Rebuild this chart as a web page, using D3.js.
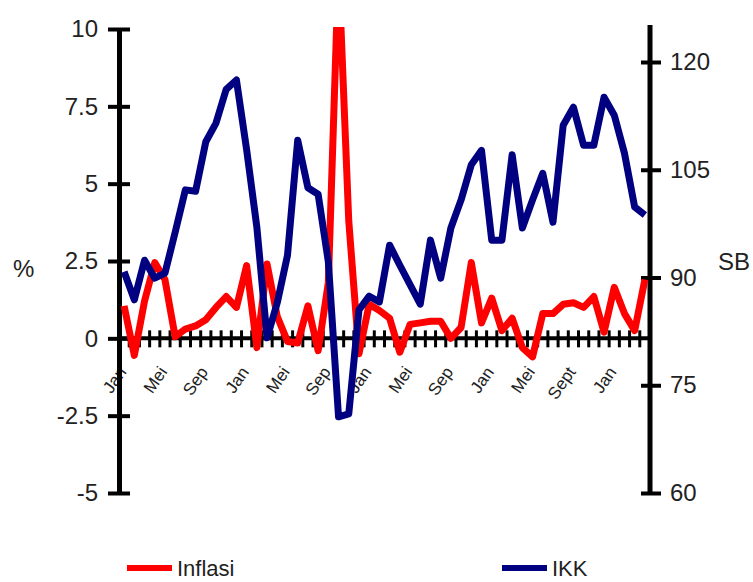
<!DOCTYPE html>
<html>
<head>
<meta charset="utf-8" />
<style>
  body { margin: 0; background: #fff; }
  svg { display: block; font-family: "Liberation Sans", Arial, sans-serif; }
</style>
</head>
<body>
<script src="https://cdn.jsdelivr.net/npm/d3@7/dist/d3.min.js"></script>
<script>
// bulan: Jan 2004 - Apr 2008
var bulan = [
  "Jan", "Feb", "Mar", "Apr", "Mei", "Jun", "Jul", "Agu", "Sep", "Okt", "Nov", "Des",
  "Jan", "Feb", "Mar", "Apr", "Mei", "Jun", "Jul", "Agu", "Sep", "Okt", "Nov", "Des",
  "Jan", "Feb", "Mar", "Apr", "Mei", "Jun", "Jul", "Agu", "Sep", "Okt", "Nov", "Des",
  "Jan", "Feb", "Mar", "Apr", "Mei", "Jun", "Jul", "Agu", "Sept", "Okt", "Nov", "Des",
  "Jan", "Feb", "Mar", "Apr"
];

// inflasi bulanan (%), sumbu kiri
var inflasi = [
  1.05, -0.55, 1.2, 2.45, 1.9, 0.05, 0.3, 0.4, 0.6, 1.0, 1.35, 1.0,
  2.35, -0.3, 2.4, 0.7, -0.1, -0.15, 1.05, -0.4, 1.8, 12, 3.8, -0.5,
  1.1, 0.9, 0.65, -0.45, 0.45, 0.5, 0.55, 0.55, 0.0, 0.35, 2.45, 0.5,
  1.3, 0.25, 0.65, -0.3, -0.6, 0.8, 0.8, 1.1, 1.15, 1.0, 1.35, 0.2,
  1.65, 0.8, 0.25, 1.9
];

// IKK, sumbu kanan
var ikk = [
  90.8, 86.9, 92.4, 89.9, 90.6, 96.3, 102.2, 102.0, 108.9, 111.5, 116.2, 117.5,
  107.8, 97.0, 81.6, 86.5, 93.1, 109.1, 102.5, 101.6, 92.2, 70.6, 71.0, 85.5,
  87.4, 86.6, 94.5, 91.7, 89.0, 86.3, 95.2, 89.9, 96.9, 100.8, 105.7, 107.7,
  95.2, 95.2, 107.1, 96.9, 100.8, 104.5, 97.7, 111.2, 113.7, 108.4, 108.4, 115.1,
  112.6, 107.3, 99.8, 98.7
];

var tickKiri = [-5, -2.5, 0, 2.5, 5, 7.5, 10];
var tickKanan = [60, 75, 90, 105, 120];

var W = 753, H = 582;
var svg = d3.select("body").append("svg").attr("width", W).attr("height", H);

var x = d3.scaleBand().domain(d3.range(bulan.length)).range([119, 650]);
var cx = i => x(i) + x.bandwidth() / 2;
var y = d3.scaleLinear().domain([-5, 10]).range([493, 29]);
var y2 = d3.scaleLinear().domain([60, 120]).range([493, 62]);

// label bulan (miring)
svg.append("g")
  .selectAll("text")
  .data(d3.range(bulan.length).filter(i => i % 4 == 0))
  .join("text")
  .attr("transform", i => `translate(${cx(i) + 3},372) rotate(-55)`)
  .attr("text-anchor", "end")
  .attr("font-size", 17)
  .attr("fill", "#222")
  .text(i => bulan[i]);

// sumbu kiri
var axL = svg.append("g")
  .attr("transform", "translate(119,0)")
  .call(d3.axisLeft(y).tickValues(tickKiri).tickSize(11).tickSizeOuter(0).tickFormat(d => String(d)));
axL.attr("font-family", null).attr("font-size", null);
axL.select(".domain").attr("stroke", "#000").attr("stroke-width", 5);
axL.selectAll(".tick line").attr("x1", 11).attr("stroke", "#000").attr("stroke-width", 4);
axL.selectAll(".tick text").attr("x", -21).attr("font-size", 24).attr("fill", "#222");

// sumbu kanan
svg.append("line")
  .attr("x1", 650).attr("x2", 650).attr("y1", 25).attr("y2", 493)
  .attr("stroke", "#000").attr("stroke-width", 5);
var axR = svg.append("g")
  .attr("transform", "translate(650,0)")
  .call(d3.axisRight(y2).tickValues(tickKanan).tickSize(11).tickSizeOuter(0));
axR.attr("font-family", null).attr("font-size", null);
axR.select(".domain").remove();
axR.selectAll(".tick line").attr("x1", -9).attr("stroke", "#000").attr("stroke-width", 4);
axR.selectAll(".tick text").attr("x", 20).attr("font-size", 24).attr("fill", "#222");

// sumbu x pada 0
svg.append("line")
  .attr("x1", 119).attr("x2", 650).attr("y1", y(0)).attr("y2", y(0))
  .attr("stroke", "#000").attr("stroke-width", 4);
svg.append("g")
  .selectAll("line")
  .data(d3.range(bulan.length + 1))
  .join("line")
  .attr("x1", i => i < bulan.length ? x(i) : 650)
  .attr("x2", i => i < bulan.length ? x(i) : 650)
  .attr("y1", y(0) - 8).attr("y2", y(0) + 9)
  .attr("stroke", "#000").attr("stroke-width", 3);

// judul sumbu
svg.append("text").attr("x", 13).attr("y", 277).attr("font-size", 24).attr("fill", "#222").text("%");
svg.append("text").attr("x", 718).attr("y", 270).attr("font-size", 24).attr("fill", "#222").text("SB");

// area plot (untuk memotong puncak inflasi)
svg.append("clipPath").attr("id", "plot")
  .append("rect").attr("x", 110).attr("y", 27).attr("width", 550).attr("height", 470);

var lineKiri = d3.line().x((d, i) => cx(i)).y(d => y(d));
var lineKanan = d3.line().x((d, i) => cx(i)).y(d => y2(d));

svg.append("path")
  .datum(inflasi)
  .attr("clip-path", "url(#plot)")
  .attr("d", lineKiri)
  .attr("fill", "none")
  .attr("stroke", "#ff0000")
  .attr("stroke-width", 7)
  .attr("stroke-linejoin", "round");

svg.append("path")
  .datum(ikk)
  .attr("d", lineKanan)
  .attr("fill", "none")
  .attr("stroke", "#000080")
  .attr("stroke-width", 7)
  .attr("stroke-linejoin", "round");

// legenda
var legenda = [
  { nama: "Inflasi", warna: "#ff0000", x: 127 },
  { nama: "IKK", warna: "#000080", x: 502 }
];
var lg = svg.append("g").selectAll("g").data(legenda).join("g");
lg.append("line")
  .attr("x1", d => d.x).attr("x2", d => d.x + 45)
  .attr("y1", 568).attr("y2", 568)
  .attr("stroke", d => d.warna).attr("stroke-width", 6);
lg.append("text")
  .attr("x", d => d.x + 50).attr("y", 576)
  .attr("font-size", 22).attr("fill", "#222")
  .text(d => d.nama);
</script>
</body>
</html>
